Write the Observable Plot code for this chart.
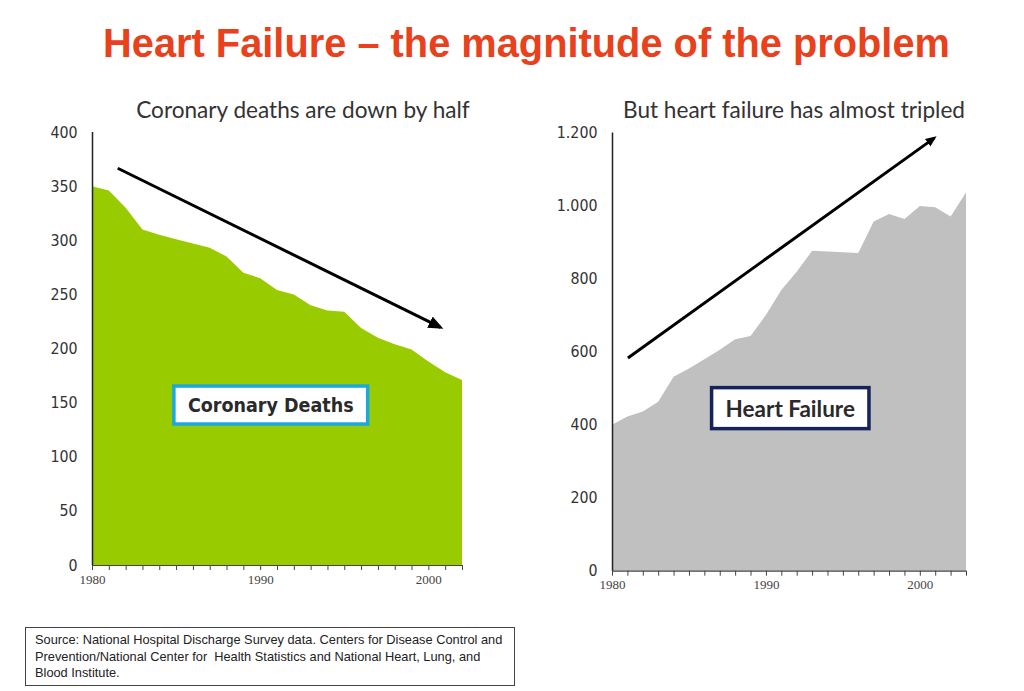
<!DOCTYPE html>
<html>
<head>
<meta charset="utf-8">
<script src="https://cdn.jsdelivr.net/npm/d3@7"></script>
<script src="https://cdn.jsdelivr.net/npm/@observablehq/plot@0.6"></script>
<style>
  html, body { margin: 0; padding: 0; background: #fff; }
  body { width: 1024px; height: 691px; position: relative; overflow: hidden; font-family: "Liberation Sans", Arial, sans-serif; }
  #title { position: absolute; left: 0; top: 23px; width: 1053px; text-align: center; font-size: 39.8px; line-height: 40px; font-weight: bold; color: #e8411c; white-space: nowrap; }
  .sub { position: absolute; top: 95.5px; font-family: Lato, "Open Sans", sans-serif; font-size: 22.6px; color: #333; white-space: nowrap; transform: translateX(-50%); }
  #leftPlot { position: absolute; left: 0; top: 120px; }
  #rightPlot { position: absolute; left: 520px; top: 120px; }
  #source { position: absolute; left: 25px; top: 627px; width: 470px; height: 49px; border: 1px solid #444; padding: 4px 9px 4px 9px; font-size: 12.8px; line-height: 16.5px; color: #222; white-space: nowrap; }
</style>
</head>
<body>
<div id="title">Heart Failure – the magnitude of the problem</div>
<div class="sub" id="subL" style="left:303px">Coronary deaths are down by half</div>
<div class="sub" id="subR" style="left:794px">But heart failure has almost tripled</div>
<div id="leftPlot"></div>
<div id="rightPlot"></div>
<div id="source">Source: National Hospital Discharge Survey data. Centers for Disease Control and<br>Prevention/National Center for&nbsp; Health Statistics and National Heart, Lung, and<br>Blood Institute.</div>
<script>
// ---- Data ----
const coronaryYears = [1980,1981,1982,1983,1984,1985,1986,1987,1988,1989,1990,1991,1992,1993,1994,1995,1996,1997,1998,1999,2000,2001,2002];
const coronaryDeaths = [350,346,330,310,305,301,297,293,285,270,265,254,250,240,235,234,219,210,204,199,188,178,171];
const coronaryTicks = [0,50,100,150,200,250,300,350,400];

const hfYears = [1980,1981,1982,1983,1984,1985,1986,1987,1988,1989,1990,1991,1992,1993,1994,1995,1996,1997,1998,1999,2000,2001,2002,2003];
const heartFailure = [400,422,436,463,531,554,579,605,634,643,700,769,819,876,874,872,870,956,977,963,999,995,970,1036];
const hfTicks = [0,200,400,600,800,1000,1200];

const xLabelYears = [1980,1990,2000];

// annotations (data coordinates)
const coronaryArrow = [{x1: 1981.5, y1: 367, x2: 2000.7, y2: 220}];
const hfArrow = [{x1: 1981.0, y1: 584, x2: 2000.9, y2: 1186}];
const coronaryLabel = [{x: 1990.6, y: 148, text: "Coronary Deaths"}];
const hfLabel = [{x: 1991.55, y: 443, text: "Heart Failure"}];

// ---- Build tables ----
const corData = coronaryYears.map((year, i) => ({year, value: coronaryDeaths[i]}));
const hfData = hfYears.map((year, i) => ({year, value: heartFailure[i]}));

const tickFont = "'DejaVu Sans Condensed', 'DejaVu Sans', sans-serif";
const xFont = "'Liberation Serif', 'DejaVu Serif', serif";

function triangleHead(size) {
  return (color) => {
    const ns = "http://www.w3.org/2000/svg";
    const m = document.createElementNS(ns, "marker");
    m.setAttribute("viewBox", `${-size} ${-size / 2} ${size + 4} ${size}`);
    m.setAttribute("markerWidth", size + 4);
    m.setAttribute("markerHeight", size);
    m.setAttribute("markerUnits", "userSpaceOnUse");
    m.setAttribute("orient", "auto");
    m.setAttribute("refX", -3);
    m.setAttribute("refY", 0);
    const p = document.createElementNS(ns, "path");
    p.setAttribute("d", `M${-size},${-size * 0.42}L0,0L${-size},${size * 0.42}Z`);
    p.setAttribute("fill", color);
    p.setAttribute("stroke", "none");
    m.appendChild(p);
    return m;
  };
}

function makeChart({data, years, ticks, fill, arrow, headSize, label, labelFont, labelSize, width, marginLeft, marginRight, marginTop, marginBottom, yFormat}) {
  return Plot.plot({
    width, height: 480, marginLeft, marginRight, marginTop, marginBottom,
    x: {domain: [years[0], years[years.length - 1]], axis: null},
    y: {domain: [ticks[0], ticks[ticks.length - 1]], axis: null},
    marks: [
      Plot.areaY(data, {x: "year", y: "value", fill, curve: "linear"}),
      Plot.axisY({ticks, tickSize: 0, tickPadding: 15, tickFormat: yFormat, fontFamily: tickFont, fontSize: 15.8, color: "#333"}),
      Plot.axisX({ticks: years, tickSize: 5, tickPadding: 4, tickFormat: d => xLabelYears.includes(d) ? String(d) : "", fontFamily: xFont, fontSize: 13, color: "#444"}),
      Plot.ruleY([ticks[0]], {stroke: "#444", strokeWidth: 1.2}),
      Plot.ruleX([years[0]], {stroke: "#222", strokeWidth: 1.5}),
      Plot.link(arrow, {x1: "x1", y1: "y1", x2: "x2", y2: "y2", stroke: "#000", strokeWidth: 3, markerEnd: triangleHead(headSize)}),
      Plot.text(label, {x: "x", y: "y", text: "text", fontFamily: labelFont, fontSize: labelSize, fontWeight: "bold", fill: "#2a2a2a", textAnchor: "middle", lineAnchor: "middle"})
    ]
  });
}

function boxLabels(svg, stroke, padX, padY) {
  svg.querySelectorAll('g[aria-label="text"] text').forEach(t => {
    const b = t.getBBox();
    const r = document.createElementNS("http://www.w3.org/2000/svg", "rect");
    r.setAttribute("x", b.x - padX);
    r.setAttribute("y", b.y - padY);
    r.setAttribute("width", b.width + 2 * padX);
    r.setAttribute("height", b.height + 2 * padY);
    if (t.getAttribute("transform")) r.setAttribute("transform", t.getAttribute("transform"));
    r.setAttribute("fill", "#fff");
    r.setAttribute("stroke", stroke);
    r.setAttribute("stroke-width", 3.5);
    t.parentNode.insertBefore(r, t);
  });
}

const leftSvg = makeChart({
  data: corData, years: coronaryYears, ticks: coronaryTicks, fill: "#99cc00",
  arrow: coronaryArrow, headSize: 15, label: coronaryLabel, labelFont: tickFont, labelSize: 19.5,
  width: 480, marginLeft: 92, marginRight: 18, marginTop: 12, marginBottom: 35,
  yFormat: d => String(d)
});
document.getElementById("leftPlot").appendChild(leftSvg);
boxLabels(leftSvg, "#1aa8e0", 14, 7.5);

const rightSvg = makeChart({
  data: hfData, years: hfYears, ticks: hfTicks, fill: "#c0c0c0",
  arrow: hfArrow, headSize: 11, label: hfLabel, labelFont: "Lato, 'Open Sans', sans-serif", labelSize: 22.5,
  width: 470, marginLeft: 92, marginRight: 24, marginTop: 12.5, marginBottom: 29.3,
  yFormat: d => d3.format(",")(d).replace(",", ".")
});
document.getElementById("rightPlot").appendChild(rightSvg);
boxLabels(rightSvg, "#15225c", 14, 7);
</script>
</body>
</html>
